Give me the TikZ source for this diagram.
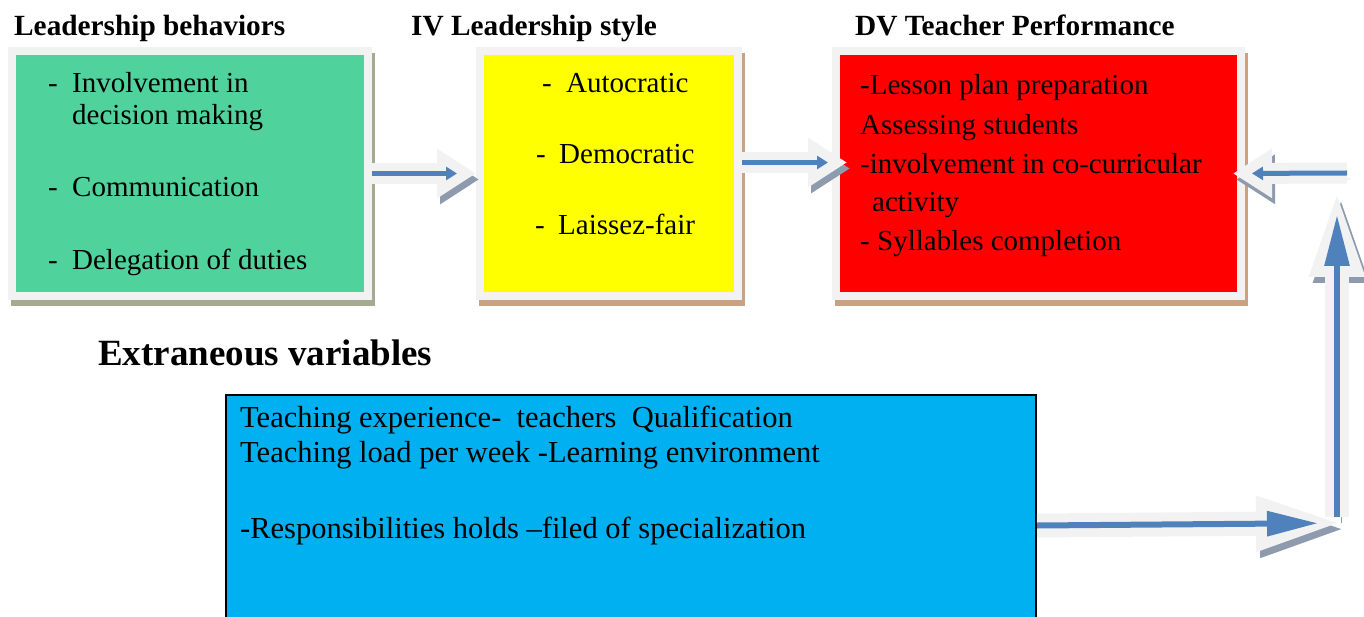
\documentclass[tikz,border=0pt]{standalone}
\usepackage{fontspec}
\setmainfont{Liberation Serif}
\usepackage{tikz}
\usetikzlibrary{arrows.meta, positioning}
\definecolor{greenFill}{HTML}{50D29C}
\definecolor{yellowFill}{HTML}{FFFF00}
\definecolor{redFill}{HTML}{FF0000}
\definecolor{blueFill}{HTML}{00B0F0}
\definecolor{frameGray}{HTML}{F2F2F2}
\definecolor{oliveShadow}{HTML}{A6AA90}
\definecolor{tanShadow}{HTML}{C9A283}
\definecolor{arrowShadow}{HTML}{8E9BAE}
\definecolor{arrowBlue}{HTML}{4F81BD}
\tikzset{
    x=1pt, y=-1pt, % one unit is one pixel of the original, y grows downwards
    every node/.style={inner sep=0pt}, % text sits exactly where it is put
    styleBox/.style={draw=frameGray, line width=8pt}, % light frame round every box
    styleText/.style={anchor=base west, font=\rmfamily\fontsize{29}{34}\selectfont},
    styleTitle/.style={anchor=base west, font=\rmfamily\bfseries\fontsize{29.3}{34}\selectfont},
}

\begin{document}
\begin{tikzpicture}[
                                styleShadow/.style={preaction={draw=#1, fill=#1, line width=8pt, transform canvas={xshift=3pt, yshift=-6pt}}},
                                styleFat/.style={draw=frameGray, line width=21pt, -{Triangle[length=39pt, width=47pt]},
                                    preaction={draw=arrowShadow, transform canvas={xshift=3pt, yshift=-6pt}},
                                    postaction={draw=arrowBlue, line width=5pt, -{Triangle[length=11pt, width=13pt]}, shorten >=19pt}},
                                styleFatBig/.style={draw=frameGray, line width=24pt, -{Triangle[length=92pt, width=48pt]},
                                    preaction={draw=arrowShadow, transform canvas={xshift=4pt, yshift=-6pt}},
                                    postaction={draw=arrowBlue, line width=6pt, -{Triangle[length=51pt, width=24pt]}, shorten >=30pt}},
                            ]
                            \useasboundingbox (0,0) rectangle (1364,617);
                            % titles
                            \node[styleTitle] (tBehav) at (14,36) {Leadership behaviors};
                            \node[styleTitle] (tStyle) at (411,36) {IV Leadership style};
                            \node[styleTitle] (tPerf) at (855,36) {DV Teacher Performance};
                            \node[anchor=base west, font=\rmfamily\bfseries\fontsize{37}{42}\selectfont] (tExtra) at (98,365) {Extraneous variables};
                            % boxes
                            \node[styleBox, styleShadow=oliveShadow, fill=greenFill, minimum width=356, minimum height=245] (behav) at (190,173.5) {};
                            \node[styleBox, styleShadow=tanShadow, fill=yellowFill, minimum width=258, minimum height=245] (lstyle) at (609,173.5) {};
                            \node[styleBox, styleShadow=tanShadow, fill=redFill, minimum width=405, minimum height=245] (perf) at (1038.5,173.5) {};
                            \node[draw=black, line width=2pt, fill=blueFill, minimum width=810, minimum height=250] (extra) at (631,520) {};
                            % leadership behaviors
                            \node[styleText] (b1) at (48,93) {\makebox[24pt][l]{-}Involvement in};
                            \node[styleText] (b2) at (72,125) {decision making};
                            \node[styleText] (b3) at (48,197) {\makebox[24pt][l]{-}Communication};
                            \node[styleText] (b4) at (48,270) {\makebox[24pt][l]{-}Delegation of duties};
                            % leadership style
                            \node[styleText] (s1) at (542,93) {\makebox[24pt][l]{-}Autocratic};
                            \node[styleText] (s2) at (536,164) {\makebox[23pt][l]{-}Democratic};
                            \node[styleText] (s3) at (535,235) {\makebox[23pt][l]{-}Laissez-fair};
                            % teacher performance
                            \node[styleText] (p1) at (860,95) {-Lesson plan preparation};
                            \node[styleText] (p2) at (860,135) {Assessing students};
                            \node[styleText] (p3) at (860,174) {-involvement in co-curricular};
                            \node[styleText] (p4) at (872,212) {activity};
                            \node[styleText] (p5) at (860,251) {\makebox[17pt][l]{-}Syllables completion};
                            % extraneous variables
                            \node[styleText, font=\rmfamily\fontsize{30.5}{34}\selectfont] (e1) at (240,427) {Teaching experience-~ teachers~ Qualification};
                            \node[styleText, font=\rmfamily\fontsize{30.5}{34}\selectfont] (e2) at (240,462) {Teaching load per week -Learning environment};
                            \node[styleText, font=\rmfamily\fontsize{30.5}{34}\selectfont] (e3) at (240,538) {-Responsibilities holds –filed of specialization};
                            % corners of the feedback path
                            \coordinate (baseLeft) at (1347,173);
                            \coordinate (baseUp) at (1337,517);
                            \coordinate (tipUp) at (1337,185);
                            \coordinate (tipLow) at (1348,523);
                            \draw[styleFat] (behav.east) -- (lstyle.west);
                            \draw[styleFat] ([yshift=11pt]lstyle.east) -- ([xshift=15pt, yshift=11pt]perf.west);
                            \draw[styleFat] (baseLeft) -- ([xshift=-12pt]perf.east);
                            \draw[styleFatBig] (baseUp) -- (tipUp);
                            \draw[styleFatBig] ([yshift=-5.5pt]extra.east) -- (tipLow);
                        \end{tikzpicture}
\end{document}
